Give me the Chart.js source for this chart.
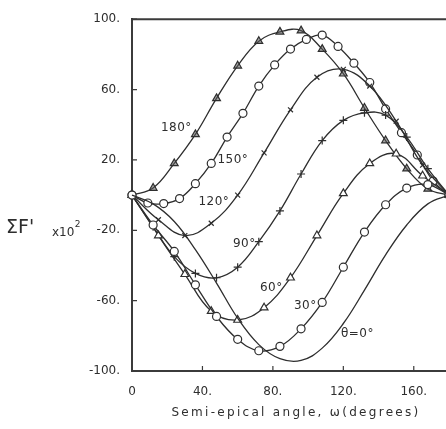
<!DOCTYPE html>
<html>
<head>
<meta charset="utf-8">
<script src="https://cdn.jsdelivr.net/npm/chart.js@4.4.0/dist/chart.umd.min.js"></script>
<style>
  html, body { margin: 0; padding: 0; overflow: hidden; background: #fff; }
  #wrap { width: 460px; height: 429px; }
</style>
</head>
<body>
<div id="wrap"><canvas id="plot" width="460" height="429"></canvas></div>
<script>
// semi-epical angle grids (degrees) the curves were sampled on
const omega9 = [0, 9, 18, 27, 36, 45, 54, 63, 72, 81, 90, 99, 108, 117, 126, 135, 144, 153, 162, 171, 180];
const omega12 = [0, 12, 24, 36, 48, 60, 72, 84, 96, 108, 120, 132, 144, 156, 168, 180];
const omega15 = [0, 15, 30, 45, 60, 75, 90, 105, 120, 135, 150, 165, 180];

// sum F' x 10^2 for each theta
const theta0 = [0, -5, -15, -31, -50, -70, -85, -93, -94, -87, -73, -54, -34, -17, -5, 0];            // omega12
const theta30 = [0, -17, -32, -51, -69, -82, -88.5, -86, -76, -61, -41, -21, -5.5, 4, 6, 0];         // omega12
const theta60 = [0, -23, -45, -66, -71, -64, -47, -23, 1, 18, 23.5, 11, 0];                          // omega15
const theta90 = [0, -18, -35, -44.5, -47, -41, -26.5, -9, 12, 31, 42.5, 46.8, 45.5, 33, 15, 0];     // omega12
const theta120 = [0, -14, -23, -16, 0, 24, 48.5, 67, 71.5, 62, 42, 17, 0];                          // omega15
const theta150 = [0, -4.5, -4.8, -2, 6.5, 18, 33, 46.5, 62, 74, 83, 88.5, 91, 84.5, 75, 64, 49, 35.5, 22.8, 8, 0]; // omega9
const theta180 = [0, 4, 18, 34.5, 55, 73.5, 87.5, 92.8, 93.5, 83, 69, 49.5, 31, 15, 3.5, 0];         // omega12

const xTicks = [0, 40, 80, 120, 160];
const yTicks = [-100, -60, -20, 20, 60, 100];

// curve annotations, placed in data units
const curveLabels = [
  { text: '180°', omega: 25.2, value: 38 },
  { text: '150°', omega: 57.3, value: 20 },
  { text: '120°', omega: 46.5, value: -4 },
  { text: '90°', omega: 63.8, value: -28 },
  { text: '60°', omega: 79.1, value: -53 },
  { text: '30°', omega: 98.4, value: -63 },
  { text: 'θ=0°', omega: 128, value: -79 }
];

const ink = '#2e2e2e';
const axisInk = '#3b3b3b';
const font = 'DejaVu Sans';

function pts(xs, ys) {
  return ys.map((v, i) => ({ x: xs[i], y: v }));
}

function series(xs, ys, style) {
  return Object.assign({
    data: pts(xs, ys),
    borderColor: ink,
    borderWidth: 1.3,
    backgroundColor: '#fff',
    pointBorderColor: ink,
    pointBorderWidth: 1.2,
    pointRadius: 4,
    tension: 0.4,
    clip: false
  }, style);
}

const decorations = {
  id: 'decorations',
  afterDraw(chart) {
    const { ctx, chartArea: a, scales: { x, y } } = chart;
    ctx.save();
    // top frame
    ctx.strokeStyle = axisInk;
    ctx.lineWidth = 2;
    ctx.beginPath();
    ctx.moveTo(a.left - 1, a.top);
    ctx.lineTo(a.right, a.top);
    ctx.stroke();

    // inward tick marks
    ctx.lineWidth = 1.2;
    ctx.beginPath();
    yTicks.forEach(v => {
      const py = y.getPixelForValue(v);
      ctx.moveTo(a.left, py);
      ctx.lineTo(a.left + 5, py);
    });
    xTicks.forEach(v => {
      const px = x.getPixelForValue(v);
      ctx.moveTo(px, a.bottom);
      ctx.lineTo(px, a.bottom - 5);
    });
    ctx.stroke();

    // curve labels
    ctx.fillStyle = ink;
    ctx.textAlign = 'center';
    ctx.textBaseline = 'middle';
    ctx.font = '12px "' + font + '"';
    ctx.letterSpacing = '0.5px';
    curveLabels.forEach(l => {
      ctx.fillText(l.text, x.getPixelForValue(l.omega), y.getPixelForValue(l.value));
    });

    // x axis title
    ctx.font = '12px "' + font + '"';
    ctx.letterSpacing = '2.3px';
    ctx.fillText('Semi-epical angle, ω(degrees)', 296, 413);

    // y axis title: ΣF' x10²
    ctx.textAlign = 'left';
    ctx.letterSpacing = '0px';
    ctx.font = '19px "' + font + '"';
    ctx.fillText("ΣF'", 6, 228);
    ctx.font = '12px "' + font + '"';
    const x10 = 'x10';
    ctx.fillText(x10, 52, 233);
    const w = ctx.measureText(x10).width;
    ctx.font = '9px "' + font + '"';
    ctx.fillText('2', 52 + w + 0.5, 225);
    ctx.restore();
  }
};

new Chart(document.getElementById('plot'), {
  type: 'line',
  data: {
    datasets: [
      series(omega12, theta0, { pointRadius: 0 }),
      series(omega12, theta30, { pointStyle: 'circle', pointRadius: 4 }),
      series(omega15, theta60, { pointStyle: 'triangle', pointRadius: 4.5 }),
      series(omega12, theta90, { pointStyle: 'cross', pointRadius: 4 }),
      series(omega15, theta120, { pointStyle: 'crossRot', pointRadius: 3.5 }),
      series(omega9, theta150, { pointStyle: 'circle', pointRadius: 4 }),
      series(omega12, theta180, { pointStyle: 'triangle', pointRadius: 4.5, backgroundColor: 'rgba(90,90,90,0.55)' })
    ]
  },
  options: {
    responsive: false,
    animation: false,
    devicePixelRatio: 1,
    layout: { padding: { left: 0, top: 19, right: 11, bottom: 0 } },
    plugins: { legend: { display: false }, tooltip: { enabled: false } },
    scales: {
      x: {
        type: 'linear',
        min: 0,
        max: 180,
        afterBuildTicks: s => { s.ticks = xTicks.map(v => ({ value: v })); },
        afterFit: s => { s.height = 58; },
        grid: { display: true, drawOnChartArea: false, drawTicks: false },
        border: { display: true, color: axisInk, width: 2 },
        ticks: {
          padding: 14,
          color: ink,
          font: { family: font, size: 12 },
          callback: v => (v === 0 ? '0' : v + '.')
        }
      },
      y: {
        type: 'linear',
        min: -100,
        max: 100,
        afterBuildTicks: s => { s.ticks = yTicks.map(v => ({ value: v })); },
        afterFit: s => { s.width = 132; },
        grid: { display: true, drawOnChartArea: false, drawTicks: false },
        border: { display: true, color: axisInk, width: 2 },
        ticks: {
          padding: 12,
          color: ink,
          font: { family: font, size: 12 },
          callback: v => v + '.'
        }
      }
    }
  },
  plugins: [decorations]
});
</script>
</body>
</html>
